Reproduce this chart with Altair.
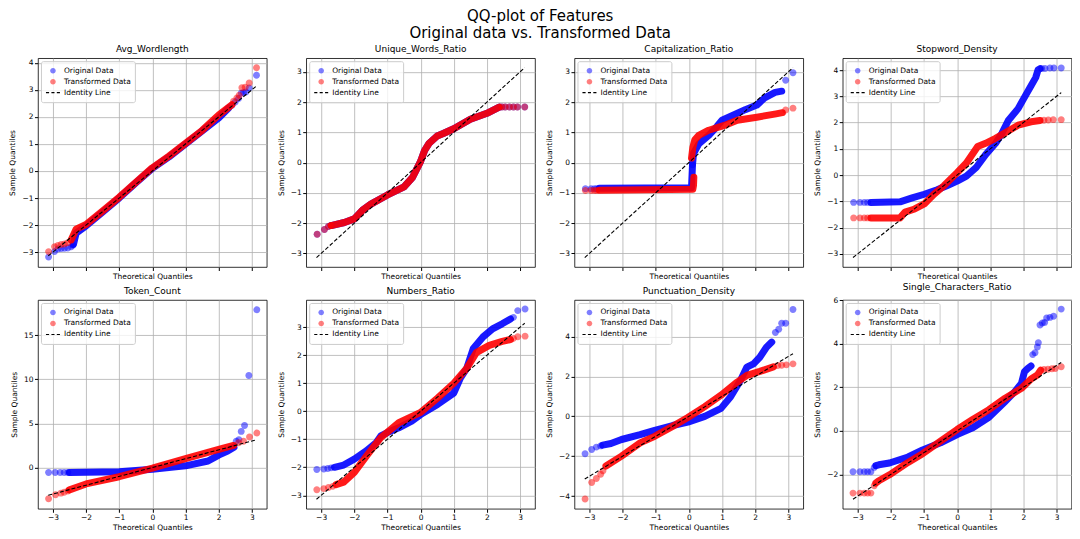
import altair as alt
import pandas as pd

TITLE_LINES = ["QQ-plot of Features", "Original data vs. Transformed Data"]
SERIES = ["Original Data", "Transformed Data", "Identity Line"]
SERIES_COLORS = ["rgba(0,0,255,0.5)", "rgba(255,0,0,0.5)", "#000000"]
SERIES_SHAPES = [
    "M0.4,0A0.4,0.4,0,1,1,-0.4,0A0.4,0.4,0,1,1,0.4,0Z",
    "M0.4,0A0.4,0.4,0,1,1,-0.4,0A0.4,0.4,0,1,1,0.4,0Z",
    "M-1,-0.08H-0.55V0.08H-1Z M-0.22,-0.08H0.22V0.08H-0.22Z M0.55,-0.08H1V0.08H0.55Z",
]
BAND_COLORS = {"Original Data": "#0000ff", "Transformed Data": "#ff0000"}
X_TICKS = [-3, -2, -1, 0, 1, 2, 3]
X_DOMAIN = [-3.45, 3.45]
IDENTITY_X = [-3.14, 3.14]
IDENTITY_Y = [-3.14, 3.14]

# ---- Avg_Wordlength ----
AVG_O_BAND_X = [-2.38, -2.3, -2.0, -1.5, -1.0, -0.5, 0.0, 0.5, 1.0, 1.5, 2.0, 2.3]
AVG_O_BAND_Y = [-2.72, -2.3, -2.03, -1.52, -1.0, -0.44, 0.1, 0.52, 1.0, 1.48, 1.96, 2.33]
AVG_O_DOT_X = [-3.13, -2.95, -2.85, -2.75, -2.65, -2.55, -2.45, -2.4, 2.4, 2.5, 2.6, 2.68, 2.75, 2.82, 2.92, 3.14]
AVG_O_DOT_Y = [-3.18, -2.98, -2.88, -2.87, -2.86, -2.85, -2.8, -2.75, 2.43, 2.55, 2.68, 2.88, 2.9, 2.92, 3.07, 3.54]
AVG_T_BAND_X = [-2.45, -2.3, -2.0, -1.5, -1.0, -0.5, 0.0, 0.5, 1.0, 1.5, 2.0, 2.4]
AVG_T_BAND_Y = [-2.55, -2.15, -1.98, -1.48, -0.97, -0.42, 0.12, 0.55, 1.02, 1.5, 2.07, 2.45]
AVG_T_DOT_X = [-3.13, -2.95, -2.85, -2.75, -2.65, -2.55, 2.45, 2.55, 2.62, 2.7, 2.8, 2.92, 3.14]
AVG_T_DOT_Y = [-2.98, -2.8, -2.75, -2.72, -2.7, -2.65, 2.58, 2.7, 2.8, 3.08, 3.1, 3.25, 3.82]

# ---- Unique_Words_Ratio ----
UWR_O_BAND_X = [-2.7, -2.3, -2.0, -1.73, -1.5, -1.0, -0.5, -0.25, 0.0, 0.12, 0.25, 0.5, 0.7, 1.0, 1.5, 2.0, 2.37]
UWR_O_BAND_Y = [-2.08, -1.98, -1.86, -1.55, -1.37, -1.07, -0.8, -0.5, 0.04, 0.4, 0.63, 0.88, 0.97, 1.12, 1.43, 1.63, 1.83]
UWR_O_DOT_X = [-3.12, -2.9, -2.78, -2.7, 2.45, 2.55, 2.68, 2.8, 2.92, 3.14]
UWR_O_DOT_Y = [-2.37, -2.21, -2.11, -2.08, 1.84, 1.84, 1.84, 1.84, 1.84, 1.84]
UWR_T_BAND_X = [-2.7, -2.3, -2.0, -1.73, -1.5, -1.0, -0.5, -0.25, 0.0, 0.12, 0.25, 0.5, 0.7, 1.0, 1.5, 2.0, 2.37]
UWR_T_BAND_Y = [-2.08, -1.98, -1.86, -1.55, -1.37, -1.07, -0.8, -0.5, 0.04, 0.4, 0.63, 0.88, 0.97, 1.12, 1.43, 1.63, 1.83]
UWR_T_DOT_X = [-3.12, -2.9, -2.78, -2.7, 2.45, 2.55, 2.68, 2.8, 2.92, 3.14]
UWR_T_DOT_Y = [-2.37, -2.21, -2.11, -2.08, 1.84, 1.84, 1.84, 1.84, 1.84, 1.84]

# ---- Capitalization_Ratio ----
CAP_O_BAND_X = [-2.7, 0.08, 0.11, 0.14, 0.3, 0.6, 0.85, 1.0, 1.3, 1.7, 2.05, 2.3, 2.6, 2.8]
CAP_O_BAND_Y = [-0.85, -0.83, -0.07, 0.3, 0.62, 0.9, 1.2, 1.4, 1.55, 1.75, 1.9, 2.15, 2.32, 2.36]
CAP_O_DOT_X = [-3.12, -2.95, -2.85, -2.78, 0.11, 2.92, 3.14]
CAP_O_DOT_Y = [-0.86, -0.86, -0.86, -0.86, -0.07, 2.72, 2.97]
CAP_T_BAND1_X = [-2.7, 0.12, 0.14, 0.15]
CAP_T_BAND1_Y = [-0.91, -0.88, -0.75, -0.48]
CAP_T_BAND2_X = [0.08, 0.12, 0.18, 0.3, 0.6, 1.07, 1.46, 2.05, 2.63, 2.82]
CAP_T_BAND2_Y = [0.15, 0.5, 0.75, 0.9, 1.07, 1.23, 1.4, 1.5, 1.61, 1.65]
CAP_T_DOT_X = [-3.12, -2.95, -2.85, -2.78, 2.92, 3.14]
CAP_T_DOT_Y = [-0.92, -0.92, -0.92, -0.92, 1.74, 1.8]

# ---- Stopword_Density ----
STW_O_BAND_X = [-2.6, -1.72, -1.38, -0.99, -0.6, -0.31, 0.0, 0.28, 0.57, 0.86, 1.16, 1.35, 1.55, 1.84, 2.03, 2.23, 2.37, 2.44, 2.5]
STW_O_BAND_Y = [-1.04, -1.02, -0.88, -0.73, -0.56, -0.41, -0.23, -0.04, 0.28, 0.78, 1.21, 1.59, 2.09, 2.53, 2.96, 3.4, 3.71, 4.0, 4.05]
STW_O_DOT_X = [-3.12, -2.93, -2.8, -2.7, 2.55, 2.65, 2.8, 2.92, 3.14]
STW_O_DOT_Y = [-1.04, -1.04, -1.04, -1.04, 4.06, 4.06, 4.08, 4.08, 4.08]
STW_T_BAND_X = [-2.6, -1.72, -1.57, -1.28, -0.99, -0.7, -0.4, 0.0, 0.28, 0.62, 0.86, 1.16, 1.45, 1.84, 2.23, 2.5]
STW_T_BAND_Y = [-1.63, -1.63, -1.41, -1.29, -1.1, -0.73, -0.41, 0.09, 0.46, 1.09, 1.21, 1.4, 1.61, 1.9, 2.03, 2.08]
STW_T_DOT_X = [-3.12, -2.93, -2.8, -2.7, 2.62, 2.75, 2.9, 3.14]
STW_T_DOT_Y = [-1.63, -1.63, -1.63, -1.63, 2.09, 2.1, 2.11, 2.11]

# ---- Token_Count ----
TOK_O_BAND_X = [-2.5, -2.0, -1.0, 0.0, 1.0, 1.68, 2.0, 2.27, 2.46]
TOK_O_BAND_Y = [-0.55, -0.53, -0.48, -0.19, 0.19, 0.74, 1.41, 1.86, 2.3]
TOK_O_DOT_X = [-3.13, -2.93, -2.78, -2.66, -2.55, 2.53, 2.61, 2.68, 2.78, 2.91, 3.15]
TOK_O_DOT_Y = [-0.56, -0.56, -0.56, -0.56, -0.56, 2.98, 3.16, 4.09, 4.76, 10.42, 17.86]
TOK_T_BAND_X = [-2.5, -2.0, -1.0, 0.0, 1.0, 2.0, 2.45]
TOK_T_BAND_Y = [-2.53, -1.86, -1.04, -0.07, 1.0, 2.05, 2.5]
TOK_T_DOT_X = [-3.13, -2.92, -2.76, -2.66, -2.55, 2.6, 2.75, 2.93, 3.15]
TOK_T_DOT_Y = [-3.54, -3.09, -2.9, -2.8, -2.65, 2.8, 2.98, 3.46, 3.9]

# ---- Numbers_Ratio ----
NUM_O_BAND_X = [-2.6, -2.32, -2.0, -1.63, -1.34, -1.2, -1.0, -0.66, -0.27, 0.0, 0.51, 1.0, 1.2, 1.39, 1.59, 1.88, 2.17, 2.46, 2.71]
NUM_O_BAND_Y = [-2.0, -1.92, -1.71, -1.41, -1.12, -0.88, -0.76, -0.59, -0.35, -0.12, 0.24, 0.65, 1.18, 1.53, 2.24, 2.65, 2.94, 3.12, 3.29]
NUM_O_DOT_X = [-3.13, -2.92, -2.8, -2.7, 2.8, 2.93, 3.15]
NUM_O_DOT_Y = [-2.08, -2.06, -2.04, -2.02, 3.35, 3.59, 3.65]
NUM_T_BAND_X = [-2.55, -2.32, -2.0, -1.63, -1.2, -0.66, 0.0, 0.51, 1.0, 1.39, 1.68, 2.07, 2.46, 2.71]
NUM_T_BAND_Y = [-2.62, -2.53, -2.18, -1.59, -0.94, -0.41, -0.04, 0.47, 1.0, 1.53, 2.09, 2.35, 2.49, 2.56]
NUM_T_DOT_X = [-3.13, -2.92, -2.78, -2.65, 2.8, 2.93, 3.15]
NUM_T_DOT_Y = [-2.8, -2.76, -2.72, -2.68, 2.6, 2.66, 2.68]

# ---- Punctuation_Density ----
PUN_O_BAND_X = [-2.6, -2.35, -2.03, -1.47, -1.03, -0.49, -0.03, 0.48, 0.97, 1.26, 1.56, 1.75, 1.95, 2.14, 2.34, 2.5]
PUN_O_BAND_Y = [-1.44, -1.36, -1.16, -0.92, -0.7, -0.46, -0.29, 0.0, 0.4, 0.98, 1.81, 2.47, 2.63, 2.96, 3.46, 3.72]
PUN_O_DOT_X = [-3.13, -2.93, -2.79, -2.66, 2.61, 2.71, 2.8, 2.92, 3.14]
PUN_O_DOT_Y = [-1.87, -1.66, -1.54, -1.48, 4.2, 4.36, 4.66, 4.66, 5.35]
PUN_T_BAND_X = [-2.5, -2.03, -1.47, -1.03, -0.49, -0.03, 0.48, 0.97, 1.46, 1.75, 2.14, 2.55]
PUN_T_BAND_Y = [-2.49, -1.99, -1.33, -1.0, -0.5, -0.06, 0.49, 1.06, 1.72, 2.05, 2.25, 2.48]
PUN_T_DOT_X = [-3.13, -2.93, -2.79, -2.66, -2.59, 2.68, 2.8, 2.94, 3.14]
PUN_T_DOT_Y = [-4.14, -3.31, -3.11, -2.9, -2.73, 2.55, 2.56, 2.58, 2.63]

# ---- Single_Characters_Ratio ----
SCR_O_BAND_X = [-2.45, -2.36, -2.04, -1.48, -1.04, -0.5, 0.0, 0.47, 0.96, 1.45, 1.74, 1.94, 2.03, 2.13, 2.23]
SCR_O_BAND_Y = [-1.6, -1.56, -1.48, -1.2, -0.88, -0.55, -0.17, 0.14, 0.62, 1.35, 1.8, 2.18, 2.71, 2.86, 2.98]
SCR_O_DOT_X = [-3.14, -2.93, -2.8, -2.7, -2.6, -2.5, 2.28, 2.35, 2.42, 2.45, 2.5, 2.57, 2.64, 2.7, 2.8, 2.91, 3.14]
SCR_O_DOT_Y = [-1.88, -1.88, -1.88, -1.88, -1.88, -1.68, 3.5, 3.59, 3.85, 4.05, 4.86, 4.95, 4.98, 5.18, 5.21, 5.26, 5.59]
SCR_T_BAND_X = [-2.45, -2.36, -2.04, -1.48, -1.04, -0.5, 0.0, 0.47, 0.96, 1.45, 1.94, 2.23, 2.42, 2.52]
SCR_T_BAND_Y = [-2.4, -2.29, -2.02, -1.45, -1.05, -0.47, 0.06, 0.52, 0.97, 1.5, 1.95, 2.38, 2.56, 2.79]
SCR_T_DOT_X = [-3.14, -2.93, -2.8, -2.7, -2.6, -2.5, 2.62, 2.74, 2.86, 2.96, 3.14]
SCR_T_DOT_Y = [-2.86, -2.86, -2.86, -2.86, -2.86, -2.52, 2.82, 2.83, 2.85, 2.86, 2.94]

PANEL_TITLES = ["Avg_Wordlength", "Unique_Words_Ratio", "Capitalization_Ratio", "Stopword_Density",
                "Token_Count", "Numbers_Ratio", "Punctuation_Density", "Single_Characters_Ratio"]
Y_DOMAINS = [[-3.55, 4.17], [-3.45, 3.45], [-3.45, 3.45], [-3.5, 4.45],
             [-4.67, 18.97], [-3.48, 3.97], [-4.63, 5.83], [-3.58, 6.01]]
Y_TICKS = [[-3, -2, -1, 0, 1, 2, 3, 4], [-3, -2, -1, 0, 1, 2, 3], [-3, -2, -1, 0, 1, 2, 3],
           [-3, -2, -1, 0, 1, 2, 3, 4], [0, 5, 10, 15], [-3, -2, -1, 0, 1, 2, 3],
           [-4, -2, 0, 2, 4], [-2, 0, 2, 4, 6]]

PANEL_DATA = [
    ([(AVG_O_BAND_X, AVG_O_BAND_Y)], (AVG_O_DOT_X, AVG_O_DOT_Y), [(AVG_T_BAND_X, AVG_T_BAND_Y)], (AVG_T_DOT_X, AVG_T_DOT_Y)),
    ([(UWR_O_BAND_X, UWR_O_BAND_Y)], (UWR_O_DOT_X, UWR_O_DOT_Y), [(UWR_T_BAND_X, UWR_T_BAND_Y)], (UWR_T_DOT_X, UWR_T_DOT_Y)),
    ([(CAP_O_BAND_X, CAP_O_BAND_Y)], (CAP_O_DOT_X, CAP_O_DOT_Y),
     [(CAP_T_BAND1_X, CAP_T_BAND1_Y), (CAP_T_BAND2_X, CAP_T_BAND2_Y)], (CAP_T_DOT_X, CAP_T_DOT_Y)),
    ([(STW_O_BAND_X, STW_O_BAND_Y)], (STW_O_DOT_X, STW_O_DOT_Y), [(STW_T_BAND_X, STW_T_BAND_Y)], (STW_T_DOT_X, STW_T_DOT_Y)),
    ([(TOK_O_BAND_X, TOK_O_BAND_Y)], (TOK_O_DOT_X, TOK_O_DOT_Y), [(TOK_T_BAND_X, TOK_T_BAND_Y)], (TOK_T_DOT_X, TOK_T_DOT_Y)),
    ([(NUM_O_BAND_X, NUM_O_BAND_Y)], (NUM_O_DOT_X, NUM_O_DOT_Y), [(NUM_T_BAND_X, NUM_T_BAND_Y)], (NUM_T_DOT_X, NUM_T_DOT_Y)),
    ([(PUN_O_BAND_X, PUN_O_BAND_Y)], (PUN_O_DOT_X, PUN_O_DOT_Y), [(PUN_T_BAND_X, PUN_T_BAND_Y)], (PUN_T_DOT_X, PUN_T_DOT_Y)),
    ([(SCR_O_BAND_X, SCR_O_BAND_Y)], (SCR_O_DOT_X, SCR_O_DOT_Y), [(SCR_T_BAND_X, SCR_T_BAND_Y)], (SCR_T_DOT_X, SCR_T_DOT_Y)),
]

FONT = "DejaVu Sans"
PANEL_W, PANEL_H = 229, 209


def make_panel(title, o_bands, o_dots, t_bands, t_dots, ydom, yticks, top):
    band_rows = []
    for series, segs in (("Original Data", o_bands), ("Transformed Data", t_bands)):
        for k, (xs, ys) in enumerate(segs):
            for j, (x, y) in enumerate(zip(xs, ys)):
                band_rows.append({"x": x, "y": y, "series": series, "seg": f"{series}-{k}", "idx": j})
    band_df = pd.DataFrame(band_rows)
    dot_rows = []
    for series, (xs, ys) in (("Original Data", o_dots), ("Transformed Data", t_dots)):
        for x, y in zip(xs, ys):
            dot_rows.append({"x": x, "y": y, "series": series})
    dot_df = pd.DataFrame(dot_rows)
    id_df = pd.DataFrame({"x": IDENTITY_X, "y": IDENTITY_Y})

    xenc = alt.X("x:Q", scale=alt.Scale(domain=X_DOMAIN, nice=False, zero=False),
                 axis=alt.Axis(values=X_TICKS, labels=not top, title="Theoretical Quantiles",
                               format="d", titlePadding=2))
    yenc = alt.Y("y:Q", scale=alt.Scale(domain=ydom, nice=False, zero=False),
                 axis=alt.Axis(values=yticks, title="Sample Quantiles", format="d", titlePadding=5))
    legend = alt.Legend(title=None, orient="top-left", offset=3, padding=4, rowPadding=0,
                        symbolSize=196, clipHeight=11, labelFontSize=7.5, labelFont=FONT,
                        labelOffset=3, fillColor="rgba(255,255,255,0.8)", strokeColor="#cccccc",
                        cornerRadius=2, labelColor="#000000")
    color = alt.Color("series:N", scale=alt.Scale(domain=SERIES, range=SERIES_COLORS), legend=legend)
    shape = alt.Shape("series:N", scale=alt.Scale(domain=SERIES, range=SERIES_SHAPES), legend=legend)

    layers = []
    for series in ["Original Data", "Transformed Data"]:
        layers.append(
            alt.Chart(band_df).transform_filter(alt.datum.series == series)
            .mark_line(color=BAND_COLORS[series], strokeWidth=7, strokeCap="round",
                       strokeJoin="round", opacity=0.9)
            .encode(x=xenc, y=yenc, detail="seg:N", order="idx:Q")
        )
        layers.append(
            alt.Chart(dot_df).transform_filter(alt.datum.series == series)
            .mark_point(filled=True, size=300, strokeWidth=0, opacity=1)
            .encode(x=xenc, y=yenc, color=color, shape=shape)
        )
    layers.append(
        alt.Chart(id_df).mark_line(color="black", strokeWidth=1.1, strokeDash=[4, 2])
        .encode(x=xenc, y=yenc)
    )
    return alt.layer(*layers).properties(title=title, width=PANEL_W, height=PANEL_H)


panels = []
for i, (title, data) in enumerate(zip(PANEL_TITLES, PANEL_DATA)):
    o_bands, o_dots, t_bands, t_dots = data
    panels.append(make_panel(title, o_bands, o_dots, t_bands, t_dots, Y_DOMAINS[i], Y_TICKS[i], i < 4))

chart = alt.concat(
    *panels, columns=4, spacing={"row": 33, "column": 39.5}, bounds="flush",
    title=alt.TitleParams(TITLE_LINES, fontSize=15, anchor="middle", lineHeight=17,
                          font=FONT, fontWeight="normal", color="#000000", offset=4),
).resolve_scale(
    color="independent", shape="independent"
).configure(
    padding={"left": 0, "top": 0, "right": 0, "bottom": 0}, font=FONT
).configure_axis(
    labelFont=FONT, labelFontSize=7.5, titleFont=FONT, titleFontSize=7.5, titleFontWeight="normal",
    gridColor="#b0b0b0", gridWidth=0.8, tickColor="#000000", tickSize=3.5, domain=False,
    labelColor="#000000", titleColor="#000000", labelPadding=1.5
).configure_view(
    stroke="#000000", strokeWidth=0.8
).configure_title(
    font=FONT, fontSize=9, fontWeight="normal", offset=4, color="#000000"
)

chart.save("out.html", embed_options={"renderer": "svg", "actions": False})
